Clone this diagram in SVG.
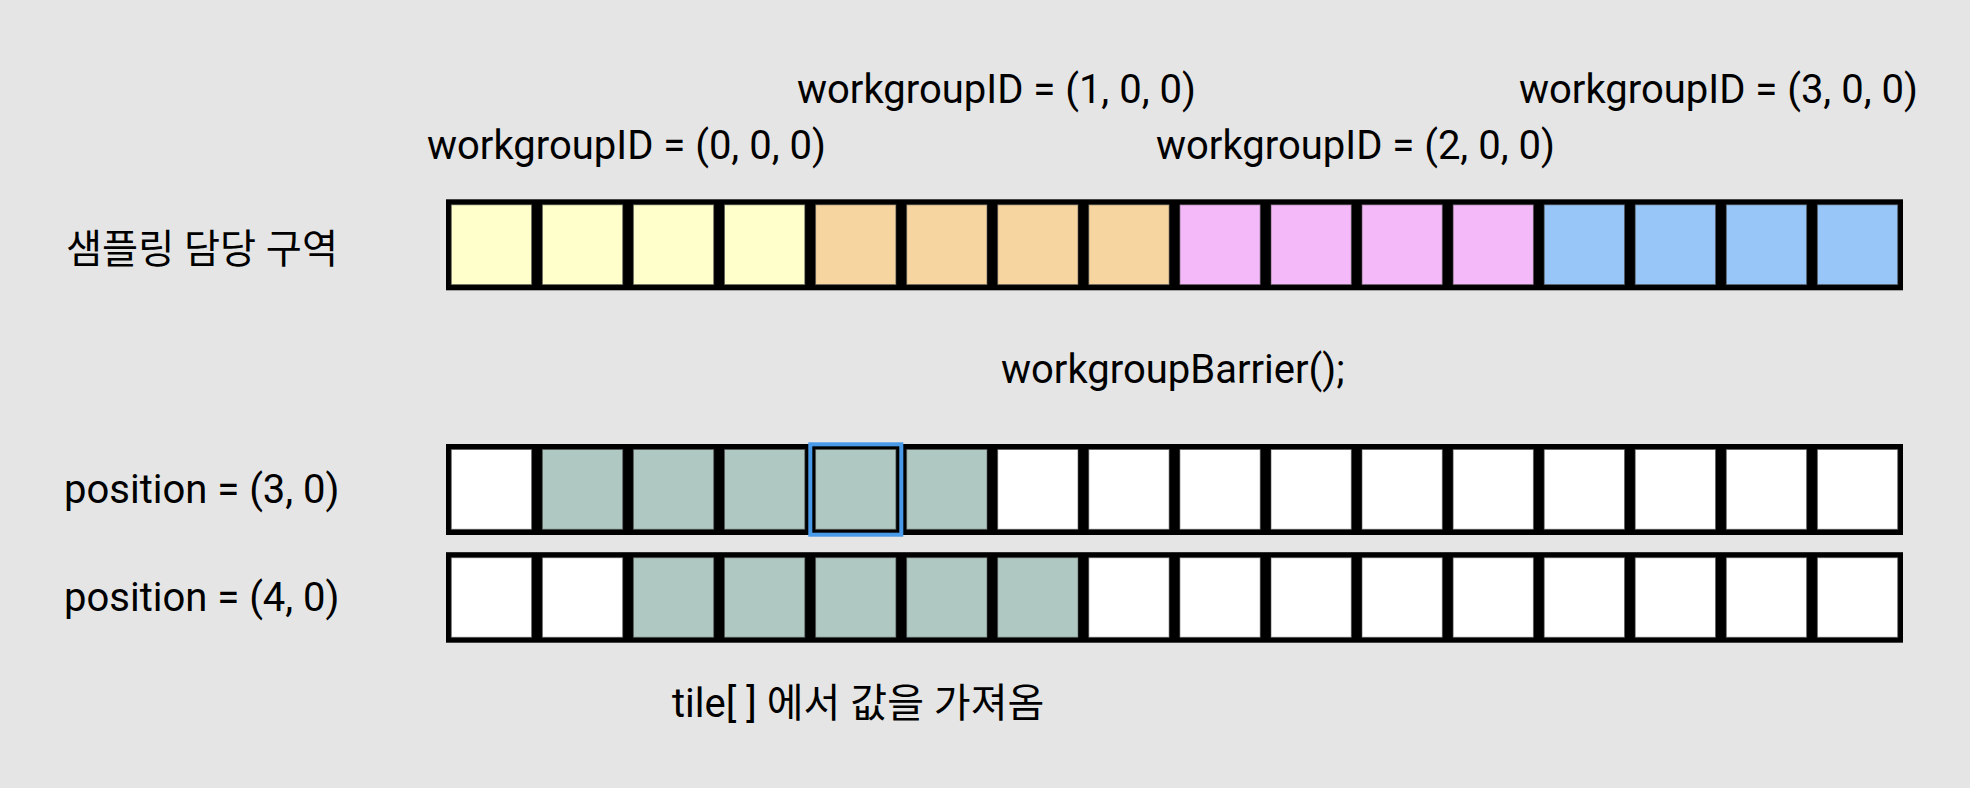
<svg xmlns="http://www.w3.org/2000/svg" width="1970" height="788" viewBox="0 0 1970 788">
<style>
text{font-family:Roboto,"Noto Sans CJK KR",sans-serif;font-size:40px;fill:#000}
.bar{fill:#000}
.c{stroke:#555;stroke-opacity:0.6;stroke-width:1}
.y{fill:#ffffcc}.o{fill:#f7d5a0}.p{fill:#f4b9f8}.b{fill:#99c6f8}.w{fill:#fff}.g{fill:#afc9c2}
</style>
<rect width="1970" height="788" fill="#e5e5e5"/>
<g id="labels">
<text x="427" y="159">workgroupID = (0, 0, 0)</text>
<text x="797" y="103">workgroupID = (1, 0, 0)</text>
<text x="1156" y="159">workgroupID = (2, 0, 0)</text>
<text x="1519" y="103">workgroupID = (3, 0, 0)</text>
<text x="66" y="263" textLength="272" lengthAdjust="spacingAndGlyphs">샘플링 담당 구역</text>
<text x="1001" y="383">workgroupBarrier();</text>
<text x="64" y="503">position = (3, 0)</text>
<text x="64" y="611">position = (4, 0)</text>
<text x="672" y="717">tile[ ] 에서 값을 가져옴</text>
</g>
<g id="row-sampling">
<rect class="bar" x="446" y="199.3" width="1457" height="91"/>
<rect class="c y" x="451.3" y="204.8" width="80.3" height="79.8"/>
<rect class="c y" x="542.4" y="204.8" width="80.3" height="79.8"/>
<rect class="c y" x="633.4" y="204.8" width="80.3" height="79.8"/>
<rect class="c y" x="724.5" y="204.8" width="80.3" height="79.8"/>
<rect class="c o" x="815.6" y="204.8" width="80.3" height="79.8"/>
<rect class="c o" x="906.7" y="204.8" width="80.3" height="79.8"/>
<rect class="c o" x="997.7" y="204.8" width="80.3" height="79.8"/>
<rect class="c o" x="1088.8" y="204.8" width="80.3" height="79.8"/>
<rect class="c p" x="1179.9" y="204.8" width="80.3" height="79.8"/>
<rect class="c p" x="1271" y="204.8" width="80.3" height="79.8"/>
<rect class="c p" x="1362" y="204.8" width="80.3" height="79.8"/>
<rect class="c p" x="1453.1" y="204.8" width="80.3" height="79.8"/>
<rect class="c b" x="1544.2" y="204.8" width="80.3" height="79.8"/>
<rect class="c b" x="1635.2" y="204.8" width="80.3" height="79.8"/>
<rect class="c b" x="1726.3" y="204.8" width="80.3" height="79.8"/>
<rect class="c b" x="1817.4" y="204.8" width="80.3" height="79.8"/>
</g>
<g id="row-pos3">
<rect class="bar" x="446" y="444" width="1457" height="91"/>
<rect class="c w" x="451.3" y="449.5" width="80.3" height="79.8"/>
<rect class="c g" x="542.4" y="449.5" width="80.3" height="79.8"/>
<rect class="c g" x="633.4" y="449.5" width="80.3" height="79.8"/>
<rect class="c g" x="724.5" y="449.5" width="80.3" height="79.8"/>
<rect class="c g" x="815.6" y="449.5" width="80.3" height="79.8"/>
<rect class="c g" x="906.7" y="449.5" width="80.3" height="79.8"/>
<rect class="c w" x="997.7" y="449.5" width="80.3" height="79.8"/>
<rect class="c w" x="1088.8" y="449.5" width="80.3" height="79.8"/>
<rect class="c w" x="1179.9" y="449.5" width="80.3" height="79.8"/>
<rect class="c w" x="1271" y="449.5" width="80.3" height="79.8"/>
<rect class="c w" x="1362" y="449.5" width="80.3" height="79.8"/>
<rect class="c w" x="1453.1" y="449.5" width="80.3" height="79.8"/>
<rect class="c w" x="1544.2" y="449.5" width="80.3" height="79.8"/>
<rect class="c w" x="1635.2" y="449.5" width="80.3" height="79.8"/>
<rect class="c w" x="1726.3" y="449.5" width="80.3" height="79.8"/>
<rect class="c w" x="1817.4" y="449.5" width="80.3" height="79.8"/>
<rect x="810.3" y="444.3" width="91" height="90.4" fill="none" stroke="#4a9aea" stroke-width="4"/>
</g>
<g id="row-pos4">
<rect class="bar" x="446" y="552.2" width="1457" height="90.5"/>
<rect class="c w" x="451.3" y="557.7" width="80.3" height="79.6"/>
<rect class="c w" x="542.4" y="557.7" width="80.3" height="79.6"/>
<rect class="c g" x="633.4" y="557.7" width="80.3" height="79.6"/>
<rect class="c g" x="724.5" y="557.7" width="80.3" height="79.6"/>
<rect class="c g" x="815.6" y="557.7" width="80.3" height="79.6"/>
<rect class="c g" x="906.7" y="557.7" width="80.3" height="79.6"/>
<rect class="c g" x="997.7" y="557.7" width="80.3" height="79.6"/>
<rect class="c w" x="1088.8" y="557.7" width="80.3" height="79.6"/>
<rect class="c w" x="1179.9" y="557.7" width="80.3" height="79.6"/>
<rect class="c w" x="1271" y="557.7" width="80.3" height="79.6"/>
<rect class="c w" x="1362" y="557.7" width="80.3" height="79.6"/>
<rect class="c w" x="1453.1" y="557.7" width="80.3" height="79.6"/>
<rect class="c w" x="1544.2" y="557.7" width="80.3" height="79.6"/>
<rect class="c w" x="1635.2" y="557.7" width="80.3" height="79.6"/>
<rect class="c w" x="1726.3" y="557.7" width="80.3" height="79.6"/>
<rect class="c w" x="1817.4" y="557.7" width="80.3" height="79.6"/>
</g>
</svg>
